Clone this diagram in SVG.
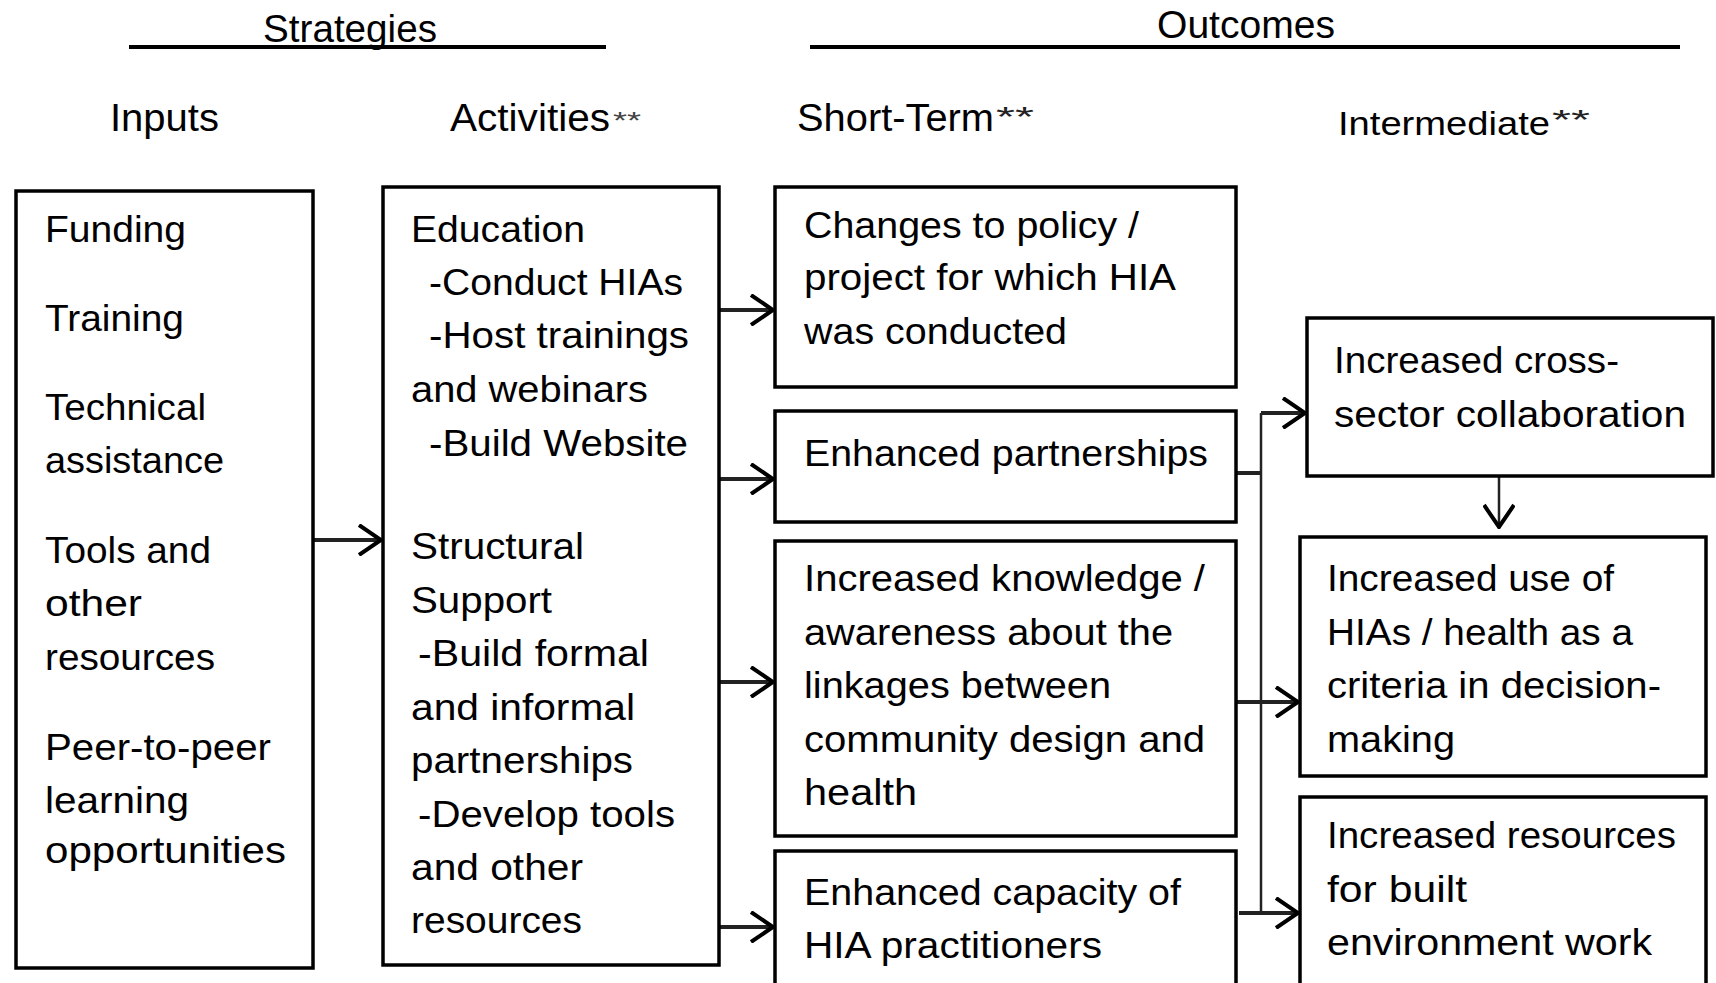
<svg xmlns="http://www.w3.org/2000/svg" width="1716" height="983" viewBox="0 0 1716 983">
<style>
text{font-family:"Liberation Sans",Arial,sans-serif;font-size:37px;fill:#000}
.h{font-size:38px}
.box{fill:#fff;stroke:#000;stroke-width:3.5}
.rule{stroke:#000;stroke-width:4}
.c{fill:none;stroke:#222;stroke-width:4}
.thin{fill:none;stroke:#222;stroke-width:2.5}
.ast{font-size:24px;fill:#444}
</style>
<defs>
<marker id="ah" markerUnits="userSpaceOnUse" viewBox="0 0 26 32" refX="24" refY="16" markerWidth="26" markerHeight="32" orient="auto">
<path d="M2,1 L24,16 L2,31" fill="none" stroke="#000" stroke-width="4"/>
</marker>
</defs>
<rect width="1716" height="983" fill="#fff"/>
<g id="headers">
<text class="h" x="263" y="42" textLength="174" lengthAdjust="spacingAndGlyphs">Strategies</text>
<line class="rule" x1="129" y1="47" x2="606" y2="47"/>
<text class="h" x="1157" y="38" textLength="178" lengthAdjust="spacingAndGlyphs">Outcomes</text>
<line class="rule" x1="810" y1="47" x2="1680" y2="47"/>
<text class="h" x="110" y="131" textLength="109" lengthAdjust="spacingAndGlyphs">Inputs</text>
<text class="h" x="450" y="131" textLength="160" lengthAdjust="spacingAndGlyphs">Activities</text>
<text class="ast" x="613" y="129" textLength="28" lengthAdjust="spacingAndGlyphs">**</text>
<text class="h" x="797" y="131" textLength="197" lengthAdjust="spacingAndGlyphs">Short-Term</text>
<text class="ast" x="996" y="126" textLength="38" lengthAdjust="spacingAndGlyphs" style="font-size:28px;fill:#222">**</text>
<text x="1338" y="135" textLength="212" lengthAdjust="spacingAndGlyphs" style="font-size:34px">Intermediate</text>
<text class="ast" x="1552" y="129" textLength="38" lengthAdjust="spacingAndGlyphs" style="font-size:28px;fill:#222">**</text>
</g>
<g id="connectors">
<path class="c" d="M313,540 H381" marker-end="url(#ah)"/>
<path class="c" d="M720,310 H773" marker-end="url(#ah)"/>
<path class="c" d="M720,479 H773" marker-end="url(#ah)"/>
<path class="c" d="M720,682 H773" marker-end="url(#ah)"/>
<path class="c" d="M720,927 H773" marker-end="url(#ah)"/>
<path class="c" d="M1237,473 H1261"/>
<path class="thin" d="M1261,413 V913"/>
<path class="c" d="M1261,413 H1305" marker-end="url(#ah)"/>
<path class="c" d="M1237,702 H1298" marker-end="url(#ah)"/>
<path class="c" d="M1239,913 H1298" marker-end="url(#ah)"/>
<path class="thin" d="M1499,477 V527" marker-end="url(#ah)"/>
</g>
<g id="inputs">
<rect class="box" x="16" y="191" width="297" height="777"/>
<text x="45" y="242" textLength="141" lengthAdjust="spacingAndGlyphs">Funding</text>
<text x="45" y="331" textLength="139" lengthAdjust="spacingAndGlyphs">Training</text>
<text x="45" y="420" textLength="161" lengthAdjust="spacingAndGlyphs">Technical</text>
<text x="45" y="473" textLength="179" lengthAdjust="spacingAndGlyphs">assistance</text>
<text x="45" y="563" textLength="166" lengthAdjust="spacingAndGlyphs">Tools and</text>
<text x="45" y="616" textLength="97" lengthAdjust="spacingAndGlyphs">other</text>
<text x="45" y="670" textLength="170" lengthAdjust="spacingAndGlyphs">resources</text>
<text x="45" y="760" textLength="226" lengthAdjust="spacingAndGlyphs">Peer-to-peer</text>
<text x="45" y="813" textLength="144" lengthAdjust="spacingAndGlyphs">learning</text>
<text x="45" y="863" textLength="241" lengthAdjust="spacingAndGlyphs">opportunities</text>
</g>
<g id="activities">
<rect class="box" x="383" y="187" width="336" height="778"/>
<text x="411" y="242" textLength="174" lengthAdjust="spacingAndGlyphs">Education</text>
<text x="429" y="295" textLength="254" lengthAdjust="spacingAndGlyphs">-Conduct HIAs</text>
<text x="429" y="348" textLength="260" lengthAdjust="spacingAndGlyphs">-Host trainings</text>
<text x="411" y="402" textLength="237" lengthAdjust="spacingAndGlyphs">and webinars</text>
<text x="429" y="456" textLength="259" lengthAdjust="spacingAndGlyphs">-Build Website</text>
<text x="411" y="559" textLength="173" lengthAdjust="spacingAndGlyphs">Structural</text>
<text x="411" y="613" textLength="141" lengthAdjust="spacingAndGlyphs">Support</text>
<text x="418" y="666" textLength="231" lengthAdjust="spacingAndGlyphs">-Build formal</text>
<text x="411" y="720" textLength="224" lengthAdjust="spacingAndGlyphs">and informal</text>
<text x="411" y="773" textLength="222" lengthAdjust="spacingAndGlyphs">partnerships</text>
<text x="418" y="827" textLength="257" lengthAdjust="spacingAndGlyphs">-Develop tools</text>
<text x="411" y="880" textLength="172" lengthAdjust="spacingAndGlyphs">and other</text>
<text x="411" y="933" textLength="171" lengthAdjust="spacingAndGlyphs">resources</text>
</g>
<g id="st-policy">
<rect class="box" x="775" y="187" width="461" height="200"/>
<text x="804" y="238" textLength="335" lengthAdjust="spacingAndGlyphs">Changes to policy /</text>
<text x="804" y="290" textLength="372" lengthAdjust="spacingAndGlyphs">project for which HIA</text>
<text x="804" y="344" textLength="263" lengthAdjust="spacingAndGlyphs">was conducted</text>
</g>
<g id="st-partnerships">
<rect class="box" x="775" y="411" width="461" height="111"/>
<text x="804" y="466" textLength="404" lengthAdjust="spacingAndGlyphs">Enhanced partnerships</text>
</g>
<g id="st-knowledge">
<rect class="box" x="775" y="541" width="461" height="295"/>
<text x="804" y="591" textLength="401" lengthAdjust="spacingAndGlyphs">Increased knowledge /</text>
<text x="804" y="645" textLength="369" lengthAdjust="spacingAndGlyphs">awareness about the</text>
<text x="804" y="698" textLength="307" lengthAdjust="spacingAndGlyphs">linkages between</text>
<text x="804" y="752" textLength="401" lengthAdjust="spacingAndGlyphs">community design and</text>
<text x="804" y="805" textLength="113" lengthAdjust="spacingAndGlyphs">health</text>
</g>
<g id="st-capacity">
<rect class="box" x="775" y="851" width="461" height="160"/>
<text x="804" y="905" textLength="377" lengthAdjust="spacingAndGlyphs">Enhanced capacity of</text>
<text x="804" y="958" textLength="298" lengthAdjust="spacingAndGlyphs">HIA practitioners</text>
</g>
<g id="im-collaboration">
<rect class="box" x="1307" y="318" width="406" height="158"/>
<text x="1334" y="373" textLength="285" lengthAdjust="spacingAndGlyphs">Increased cross-</text>
<text x="1334" y="427" textLength="352" lengthAdjust="spacingAndGlyphs">sector collaboration</text>
</g>
<g id="im-use">
<rect class="box" x="1300" y="537" width="406" height="239"/>
<text x="1327" y="591" textLength="287" lengthAdjust="spacingAndGlyphs">Increased use of</text>
<text x="1327" y="645" textLength="306" lengthAdjust="spacingAndGlyphs">HIAs / health as a</text>
<text x="1327" y="698" textLength="334" lengthAdjust="spacingAndGlyphs">criteria in decision-</text>
<text x="1327" y="752" textLength="128" lengthAdjust="spacingAndGlyphs">making</text>
</g>
<g id="im-resources">
<rect class="box" x="1300" y="797" width="406" height="214"/>
<text x="1327" y="848" textLength="349" lengthAdjust="spacingAndGlyphs">Increased resources</text>
<text x="1327" y="902" textLength="140" lengthAdjust="spacingAndGlyphs">for built</text>
<text x="1327" y="955" textLength="325" lengthAdjust="spacingAndGlyphs">environment work</text>
</g>
</svg>
